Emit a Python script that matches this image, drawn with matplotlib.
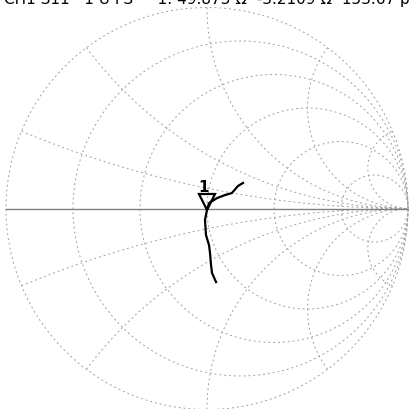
import numpy as np
import matplotlib.pyplot as plt

# Smith chart graticule values
r_circles = [0.2, 0.5, 1.0, 2.0, 5.0]
x_arcs = [0.2, 0.5, 1.0, 2.0, 5.0]

trace_re = [0.179, 0.154, 0.124, 0.090, 0.050, 0.010, 0.0, -0.010, -0.005,
            0.010, 0.015, 0.020, 0.025, 0.045]
trace_im = [0.127, 0.112, 0.077, 0.067, 0.052, 0.027, -0.007, -0.057, -0.132,
            -0.182, -0.221, -0.281, -0.321, -0.366]

marker_re, marker_im = 0.0, -0.02
header = "CH1 S11   1 U FS     1: 49.873 Ω  -3.2109 Ω  153.67 pF"

fig = plt.figure(figsize=(4.10, 4.09), dpi=100)
ax = fig.add_axes([0, 0, 1, 1])
ax.set_xlim(-207 / 201, 203 / 201)
ax.set_ylim(-200.5 / 201, 208.5 / 201)
ax.axis('off')

grid = dict(color='#a0a0a0', lw=0.7, ls=(0, (2, 3)))

# outer circle
t = np.linspace(0, 2 * np.pi, 400)
ax.plot(np.cos(t), np.sin(t), **grid)

# constant resistance circles
big = np.concatenate([-np.logspace(3, -3, 300), np.logspace(-3, 3, 300)])
for r in r_circles:
    z = r + 1j * big
    g = (z - 1) / (z + 1)
    ax.plot(g.real, g.imag, **grid)

# constant reactance arcs
rr = np.concatenate([[0], np.logspace(-3, 3, 400)])
for x in x_arcs:
    for s in (1, -1):
        z = rr + 1j * s * x
        g = (z - 1) / (z + 1)
        ax.plot(g.real, g.imag, **grid)

# real axis
ax.plot([-1, 1], [0, 0], color='#808080', lw=1.0)

# trace
ax.plot(trace_re, trace_im, color='black', lw=1.6)

# marker 1
ax.plot(marker_re, marker_im + 0.05, marker='v', ms=12, mfc='none',
        mec='black', mew=1.6)
ax.text(marker_re - 0.015, marker_im + 0.085, "1", fontsize=11,
        fontweight='bold', ha='center', va='bottom')

# header line, mostly above the visible area like on the screen capture
fig.text(0.01, 1 - 4 / 409, header, fontsize=11, va='baseline', ha='left')

fig.savefig('out.png', dpi=100)
